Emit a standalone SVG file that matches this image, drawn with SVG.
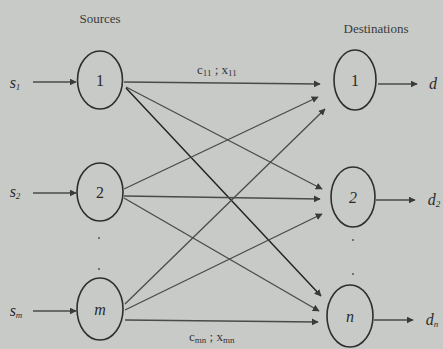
<svg xmlns="http://www.w3.org/2000/svg" width="443" height="349" viewBox="0 0 443 349">
<defs>
<marker id="ah" viewBox="0 0 10 10" refX="9" refY="5" markerWidth="7" markerHeight="7" orient="auto" markerUnits="userSpaceOnUse">
<path d="M0,0 L10,5 L0,10 Z" fill="#3a3a3a"/>
</marker>
<style>
.bg{fill:#c8cac7}
.node{fill:none;stroke:#2e2e2e;stroke-width:1.6}
.lbl{font-family:"Liberation Serif",serif;font-size:16px;fill:#2a2a2a;text-anchor:middle}
.it{font-style:italic}
.hd{font-family:"Liberation Serif",serif;font-size:13px;fill:#3a3a3a;text-anchor:middle}
.sm{font-family:"Liberation Serif",serif;font-size:13px;fill:#333}
.edge{stroke:#4a4a4a;stroke-width:1.3;fill:none;marker-end:url(#ah)}
.dark{stroke:#222;stroke-width:1.5}
.dot{fill:#555}
</style>
</defs>
<rect class="bg" x="0" y="0" width="443" height="349"/>
<text class="hd" x="100" y="23">Sources</text>
<text class="hd" x="376" y="33">Destinations</text>

<g id="connectors">
<line class="edge" x1="33" y1="82" x2="76" y2="82"/>
<line class="edge" x1="33" y1="193" x2="76" y2="193"/>
<line class="edge" x1="33" y1="311" x2="76" y2="311"/>
<line class="edge" x1="378" y1="84" x2="417" y2="84"/>
<line class="edge" x1="376" y1="200" x2="415" y2="200"/>
<line class="edge" x1="374" y1="320" x2="413" y2="320"/>

<line class="edge" x1="124" y1="82" x2="320" y2="84"/>
<line class="edge" x1="126" y1="87" x2="322" y2="189"/>
<line class="edge dark" x1="126" y1="88" x2="321" y2="296"/>

<line class="edge" x1="124" y1="189" x2="318" y2="97"/>
<line class="edge" x1="124" y1="196" x2="320" y2="199"/>
<line class="edge" x1="124" y1="198" x2="319" y2="311"/>

<line class="edge" x1="125" y1="304" x2="325" y2="109"/>
<line class="edge" x1="125" y1="310" x2="322" y2="214"/>
<line class="edge" x1="125" y1="320" x2="318" y2="322"/>
</g>

<text class="sm" x="197" y="74">c<tspan font-size="9" dy="2">11</tspan><tspan dy="-2"> ; x</tspan><tspan font-size="9" dy="2">11</tspan></text>
<text class="sm" x="189" y="341">c<tspan font-size="9" dy="2">mn</tspan><tspan dy="-2"> ; x</tspan><tspan font-size="9" dy="2">mn</tspan></text>

<g id="s1"><ellipse class="node" cx="100" cy="80" rx="22.5" ry="29"/><text class="lbl" x="100" y="86">1</text></g>
<g id="s2"><ellipse class="node" cx="100" cy="192" rx="23" ry="29"/><text class="lbl" x="100" y="198">2</text></g>
<g id="sm"><ellipse class="node" cx="100" cy="309" rx="23" ry="31"/><text class="lbl it" x="100" y="315">m</text></g>
<g id="d1"><ellipse class="node" cx="355" cy="80" rx="21" ry="30"/><text class="lbl" x="355" y="86">1</text></g>
<g id="d2"><ellipse class="node" cx="353" cy="197" rx="22" ry="30"/><text class="lbl it" x="353" y="203">2</text></g>
<g id="dn"><ellipse class="node" cx="350" cy="316" rx="23" ry="31"/><text class="lbl it" x="350" y="322">n</text></g>

<text class="lbl it" x="15" y="88" font-size="13">s<tspan font-size="9" dy="2">1</tspan></text>
<text class="lbl it" x="15" y="197" font-size="13">s<tspan font-size="9" dy="2">2</tspan></text>
<text class="lbl it" x="16" y="316" font-size="13">s<tspan font-size="9" dy="2">m</tspan></text>
<text class="lbl it" x="433" y="89" font-size="14">d</text>
<text class="lbl it" x="434" y="205" font-size="14">d<tspan font-size="9" dy="2">2</tspan></text>
<text class="lbl it" x="432" y="325" font-size="14">d<tspan font-size="9" dy="2">n</tspan></text>

<circle class="dot" cx="99" cy="238" r="1"/>
<circle class="dot" cx="99" cy="269" r="1"/>
<circle class="dot" cx="353" cy="240" r="1"/>
<circle class="dot" cx="353" cy="274" r="1"/>
</svg>
